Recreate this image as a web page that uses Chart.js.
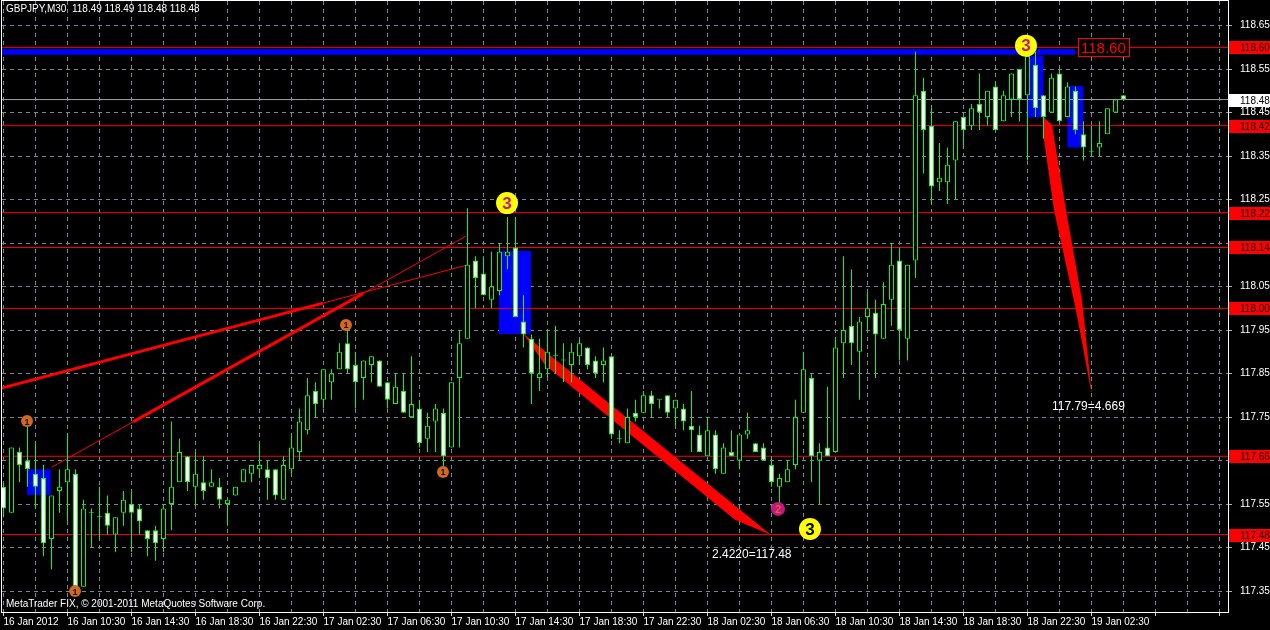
<!DOCTYPE html>
<html>
<head>
<meta charset="utf-8">
<title>GBPJPY,M30</title>
<script src="https://cdn.jsdelivr.net/npm/chart.js@4.4.0/dist/chart.umd.min.js"></script>
<style>
  html, body { margin: 0; padding: 0; background: #000; }
  #wrap { width: 1270px; height: 630px; }
</style>
</head>
<body>
<div id="wrap"><canvas id="chart" width="1270" height="630"></canvas></div>
<script>
// GBPJPY M30, 16 Jan 06:30 .. 19 Jan 04:30 (141 bars)
const opens = [
  117.59, 117.53, 117.67, 117.65, 117.62, 117.61, 117.47, 117.58, 117.60, 117.62,
  117.36, 117.53, 117.52, 117.53, 117.48, 117.53, 117.55, 117.54, 117.49, 117.49,
  117.47, 117.55, 117.60, 117.66, 117.59, 117.60, 117.59, 117.59, 117.55, 117.57,
  117.60, 117.62, 117.63, 117.63, 117.63, 117.56, 117.63, 117.67, 117.72, 117.81,
  117.79, 117.83, 117.86, 117.92, 117.87, 117.84, 117.87, 117.88, 117.83, 117.78,
  117.81, 117.75, 117.77, 117.70, 117.74, 117.76, 117.68, 117.84, 117.93, 118.11,
  118.08, 118.02, 118.04, 118.12, 118.14, 117.97, 117.93, 117.84, 117.86, 117.89,
  117.88, 117.87, 117.89, 117.91, 117.88, 117.87, 117.89, 117.70, 117.69, 117.76,
  117.76, 117.80, 117.79, 117.80, 117.77, 117.77, 117.73, 117.71, 117.66, 117.71,
  117.62, 117.67, 117.65, 117.71, 117.69, 117.68, 117.64, 117.59, 117.60, 117.64,
  117.76, 117.84, 117.65, 117.68, 117.67, 117.92, 117.96, 117.90, 117.98, 117.99,
  117.93, 118.02, 118.11, 117.93, 118.11, 118.50, 118.42, 118.29, 118.29, 118.34,
  118.44, 118.42, 118.47, 118.44, 118.51, 118.43, 118.48, 118.55, 118.49, 118.56,
  118.49, 118.45, 118.54, 118.44, 118.50, 118.40, 118.36, 118.37, 118.40, 118.45,
  118.49
];
const highs = [
  117.60, 117.68, 117.68, 117.73, 117.69, 117.64, 117.57, 117.63, 117.71, 117.63,
  117.56, 117.54, 117.59, 117.57, 117.52, 117.58, 117.58, 117.55, 117.49, 117.50,
  117.55, 117.74, 117.70, 117.66, 117.67, 117.66, 117.63, 117.61, 117.56, 117.59,
  117.63, 117.64, 117.69, 117.65, 117.63, 117.66, 117.71, 117.77, 117.84, 117.83,
  117.86, 117.86, 117.92, 117.96, 117.90, 117.88, 117.89, 117.88, 117.83, 117.85,
  117.85, 117.89, 117.79, 117.76, 117.78, 117.77, 117.83, 117.95, 118.23, 118.12,
  118.12, 118.13, 118.15, 118.21, 118.21, 118.03, 117.94, 117.93, 117.95, 117.96,
  117.92, 117.92, 117.93, 117.91, 117.89, 117.91, 117.89, 117.72, 117.77, 117.79,
  117.81, 117.81, 117.79, 117.80, 117.79, 117.78, 117.81, 117.73, 117.75, 117.72,
  117.69, 117.72, 117.71, 117.76, 117.69, 117.69, 117.66, 117.62, 117.65, 117.79,
  117.90, 117.85, 117.69, 117.82, 117.93, 118.12, 118.09, 117.98, 118.04, 118.02,
  118.06, 118.15, 118.14, 118.10, 118.59, 118.53, 118.46, 118.38, 118.37, 118.43,
  118.44, 118.47, 118.54, 118.50, 118.52, 118.50, 118.54, 118.55, 118.61, 118.59,
  118.49, 118.54, 118.55, 118.52, 118.51, 118.43, 118.42, 118.43, 118.46, 118.48,
  118.49
];
const lows = [
  117.52, 117.53, 117.60, 117.59, 117.54, 117.43, 117.40, 117.53, 117.51, 117.35,
  117.36, 117.45, 117.47, 117.48, 117.44, 117.50, 117.44, 117.48, 117.43, 117.42,
  117.44, 117.49, 117.60, 117.58, 117.55, 117.56, 117.59, 117.54, 117.50, 117.57,
  117.60, 117.60, 117.61, 117.56, 117.56, 117.56, 117.62, 117.65, 117.71, 117.75,
  117.77, 117.79, 117.86, 117.85, 117.77, 117.79, 117.83, 117.82, 117.77, 117.78,
  117.76, 117.75, 117.68, 117.67, 117.67, 117.63, 117.68, 117.68, 117.93, 118.00,
  118.03, 118.00, 118.03, 118.09, 117.98, 117.91, 117.78, 117.81, 117.84, 117.85,
  117.83, 117.83, 117.87, 117.86, 117.84, 117.83, 117.70, 117.69, 117.69, 117.74,
  117.76, 117.75, 117.77, 117.75, 117.73, 117.72, 117.67, 117.67, 117.66, 117.62,
  117.62, 117.66, 117.63, 117.70, 117.67, 117.65, 117.59, 117.55, 117.60, 117.63,
  117.76, 117.60, 117.55, 117.66, 117.67, 117.84, 117.87, 117.79, 117.95, 117.84,
  117.93, 117.96, 117.88, 117.88, 118.07, 118.31, 118.24, 118.27, 118.24, 118.25,
  118.37, 118.41, 118.41, 118.42, 118.41, 118.43, 118.44, 118.43, 118.34, 118.44,
  118.39, 118.45, 118.43, 118.44, 118.40, 118.34, 118.35, 118.35, 118.40, 118.45,
  118.48
];
const closes = [
  117.54, 117.68, 117.64, 117.63, 117.59, 117.46, 117.57, 117.59, 117.63, 117.36,
  117.54, 117.53, 117.52, 117.50, 117.52, 117.56, 117.53, 117.51, 117.47, 117.46,
  117.54, 117.59, 117.67, 117.60, 117.62, 117.58, 117.60, 117.56, 117.56, 117.59,
  117.63, 117.64, 117.64, 117.61, 117.57, 117.64, 117.68, 117.74, 117.80, 117.78,
  117.86, 117.85, 117.90, 117.86, 117.83, 117.88, 117.89, 117.82, 117.79, 117.82,
  117.76, 117.78, 117.69, 117.73, 117.77, 117.66, 117.83, 117.92, 118.10, 118.07,
  118.03, 118.05, 118.13, 118.13, 117.98, 117.94, 117.85, 117.85, 117.90, 117.89,
  117.88, 117.90, 117.92, 117.87, 117.85, 117.88, 117.71, 117.70, 117.75, 117.75,
  117.80, 117.78, 117.79, 117.76, 117.79, 117.74, 117.72, 117.67, 117.72, 117.63,
  117.68, 117.66, 117.71, 117.72, 117.67, 117.65, 117.60, 117.61, 117.63, 117.75,
  117.86, 117.66, 117.67, 117.66, 117.91, 117.95, 117.92, 117.97, 118.00, 117.94,
  118.01, 118.10, 117.95, 118.10, 118.49, 118.41, 118.28, 118.30, 118.33, 118.43,
  118.41, 118.46, 118.45, 118.50, 118.41, 118.49, 118.54, 118.48, 118.58, 118.46,
  118.44, 118.53, 118.43, 118.51, 118.41, 118.37, 118.36, 118.38, 118.46, 118.48,
  118.48
];

// one label every 8 bars (4 hours)
const timeLabels = [
  '16 Jan 2012', '16 Jan 10:30', '16 Jan 14:30', '16 Jan 18:30', '16 Jan 22:30',
  '17 Jan 02:30', '17 Jan 06:30', '17 Jan 10:30', '17 Jan 14:30', '17 Jan 18:30',
  '17 Jan 22:30', '18 Jan 02:30', '18 Jan 06:30', '18 Jan 10:30', '18 Jan 14:30',
  '18 Jan 18:30', '18 Jan 22:30', '19 Jan 02:30'
];
const priceTicks = [117.35, 117.45, 117.55, 117.65, 117.75, 117.85, 117.95,
                    118.05, 118.15, 118.25, 118.35, 118.45, 118.55, 118.65];

// horizontal levels (red) and the current bid
const levels = [118.60, 118.42, 118.22, 118.14, 118.00, 117.66, 117.48];
const bid = 118.48;
const header = 'GBPJPY,M30  118.49 118.49 118.48 118.48';

// drawn objects, in [bar, price]
const blueBoxes = [ // [barFrom, barTo, priceLow, priceHigh]
  [2.95, 5.9, 117.571, 117.630],
  [61.94, 65.94, 117.941, 118.132],
  [128.03, 129.98, 118.439, 118.580],
  [132.98, 134.98, 118.370, 118.511]
];
const blueBand = [-1, 133.94, 118.583, 118.596];
const wedges = [
  [[64.94, 117.943], [95.94, 117.479], [91.44, 117.514], [67.69, 117.870]],
  [[129.94, 118.440], [131.06, 118.422], [132.81, 118.226], [134.81, 118.019],
   [136.06, 117.799], [134.06, 117.996], [131.31, 118.226], [130.06, 118.387]]
];
const fanThin = [
  [[-1, 117.813], [57.81, 118.099]],
  [[6.03, 117.635], [57.81, 118.166]]
];
const fanThick = [
  [[-1, 117.813], [39.94, 118.012]],
  [[16.19, 117.739], [44.94, 118.034]]
];
const onesPts = [[2.94, 117.741], [8.94, 117.350], [42.81, 117.962], [54.94, 117.624]];
const twosPts = [[96.81, 117.539]];
const threesPts = [[62.94, 118.242], [127.81, 118.604]];
const threesLow = [[100.81, 117.493]];
const notes = [
  { text: '2.4220=117.48', at: [88.56, 117.433] },
  { text: '117.79=4.669', at: [131.06, 117.773] }
];
const boxLabel = { text: '118.60', at: [134.31, 118.60] };

const xMin = -0.1875, xMax = 153.0625;
const yMin = 117.302, yMax = 118.7066;

const LIME = '#00ff00';
const FONT = "'Liberation Sans', Arial, sans-serif";

const wickData = highs.map((h, i) => ({ x: i, y: [lows[i], h] }));
const bodyData = opens.map((o, i) => ({ x: i, y: [o, closes[i]] }));
const bodyFill = opens.map((o, i) => closes[i] >= o ? '#000000' : '#ffffff');

function seg(points, color, width, order) {
  return {
    type: 'line',
    data: points.map(p => ({ x: p[0], y: p[1] })),
    borderColor: color,
    borderWidth: width,
    pointRadius: 0,
    fill: false,
    tension: 0,
    order: order
  };
}

const datasets = [
  {
    type: 'bar', label: 'body', data: bodyData,
    backgroundColor: bodyFill, borderColor: LIME, borderWidth: 1,
    borderSkipped: false, grouped: false, maxBarThickness: 5, minBarLength: 1,
    order: 0
  },
  {
    type: 'bar', label: 'wick', data: wickData,
    backgroundColor: LIME, borderWidth: 0,
    grouped: false, maxBarThickness: 1, order: 1
  }
];
levels.forEach(v => datasets.push(seg([[xMin, v], [xMax, v]], '#ff0000', 1, 5)));
datasets.push(seg([[xMin, bid], [xMax, bid]], '#a0a0a0', 1, 6));
fanThin.forEach(l => datasets.push(seg(l, '#ff0000', 1, 7)));
fanThick.forEach(l => datasets.push(seg(l, '#ff0000', 3, 7)));

function badge(ctx, px, py, r, fill, text, color, font) {
  ctx.beginPath();
  ctx.arc(px, py, r, 0, Math.PI * 2);
  ctx.fillStyle = fill;
  ctx.fill();
  ctx.fillStyle = color;
  ctx.font = font;
  ctx.textAlign = 'center';
  ctx.textBaseline = 'middle';
  ctx.fillText(text, px, py + 1);
}

const overlays = {
  id: 'overlays',
  beforeDatasetsDraw(chart) {
    const { ctx, chartArea: a, scales: { x, y } } = chart;
    ctx.save();
    ctx.beginPath();
    ctx.rect(a.left, a.top, a.right - a.left, a.bottom - a.top);
    ctx.clip();
    ctx.fillStyle = '#0000ff';
    blueBoxes.concat([blueBand]).forEach(b => {
      const x1 = x.getPixelForValue(b[0]), x2 = x.getPixelForValue(b[1]);
      const y1 = y.getPixelForValue(b[3]), y2 = y.getPixelForValue(b[2]);
      ctx.fillRect(x1, y1, x2 - x1, y2 - y1);
    });
    ctx.fillStyle = '#ff0000';
    wedges.forEach(w => {
      ctx.beginPath();
      w.forEach((p, k) => {
        const px = x.getPixelForValue(p[0]), py = y.getPixelForValue(p[1]);
        if (k) ctx.lineTo(px, py); else ctx.moveTo(px, py);
      });
      ctx.closePath();
      ctx.fill();
    });
    ctx.restore();
  },
  afterDatasetsDraw(chart) {
    const { ctx, scales: { x, y } } = chart;
    ctx.save();
    onesPts.forEach(p => badge(ctx, x.getPixelForValue(p[0]), y.getPixelForValue(p[1]), 6,
      '#d2691e', '1', '#1a0a00', 'bold 9px ' + FONT));
    twosPts.forEach(p => badge(ctx, x.getPixelForValue(p[0]), y.getPixelForValue(p[1]), 7,
      '#c71585', '2', '#d2691e', 'bold 11px ' + FONT));
    threesPts.forEach(p => badge(ctx, x.getPixelForValue(p[0]), y.getPixelForValue(p[1]), 11,
      '#ffff00', '3', '#c71585', 'bold 17px ' + FONT));
    threesLow.forEach(p => badge(ctx, x.getPixelForValue(p[0]), y.getPixelForValue(p[1]), 11,
      '#ffff00', '3', '#000000', 'bold 17px ' + FONT));

    ctx.fillStyle = '#ffffff';
    ctx.font = '12px ' + FONT;
    ctx.textAlign = 'left';
    ctx.textBaseline = 'middle';
    notes.forEach(n => ctx.fillText(n.text, x.getPixelForValue(n.at[0]), y.getPixelForValue(n.at[1])));

    // boxed price label
    const bx = x.getPixelForValue(boxLabel.at[0]), by = y.getPixelForValue(boxLabel.at[1]);
    ctx.font = '15px ' + FONT;
    const bw = ctx.measureText(boxLabel.text).width + 6;
    ctx.fillStyle = '#000000';
    ctx.fillRect(bx, by - 9, bw, 18);
    ctx.strokeStyle = '#ff0000';
    ctx.lineWidth = 1;
    ctx.strokeRect(Math.round(bx) + 0.5, Math.round(by - 9) + 0.5, Math.round(bw), 18);
    ctx.fillStyle = '#ff0000';
    ctx.fillText(boxLabel.text, bx + 3, by + 1);
    ctx.restore();
  },
  afterDraw(chart) {
    const { ctx, chartArea: a, scales: { y } } = chart;
    ctx.save();
    // frame
    ctx.strokeStyle = '#ffffff';
    ctx.lineWidth = 1;
    ctx.strokeRect(a.left - 0.5, a.top - 0.5, a.right - a.left + 1, a.bottom - a.top + 1);

    // price labels on the right axis
    ctx.font = '10px ' + FONT;
    ctx.textAlign = 'left';
    ctx.textBaseline = 'middle';
    const tag = (v, bg, fg) => {
      const py = Math.round(y.getPixelForValue(v));
      ctx.fillStyle = bg;
      ctx.fillRect(a.right + 1, py - 6, 1270 - a.right - 1, 13);
      ctx.fillStyle = fg;
      ctx.fillText(v.toFixed(2), a.right + 12, py + 1);
    };
    levels.forEach(v => tag(v, '#ff0000', '#000000'));
    tag(bid, '#ffffff', '#000000');

    // header and copyright
    ctx.fillStyle = '#ffffff';
    ctx.font = '10px ' + FONT;
    ctx.fillText(header, 6, 9);
    ctx.fillText('MetaTrader FIX, \u00a9 2001-2011 MetaQuotes Software Corp.', 6, 604);
    ctx.restore();
  }
};

// hide axis labels that sit under a level tag
const hiddenByTag = v => levels.some(l => Math.abs(l - v) < 0.015);

new Chart(document.getElementById('chart'), {
  type: 'bar',
  data: { datasets: datasets },
  options: {
    responsive: false,
    animation: false,
    devicePixelRatio: 1,
    events: [],
    layout: { autoPadding: false, padding: { left: 2, top: 1, right: 0, bottom: 0 } },
    plugins: { legend: { display: false }, tooltip: { enabled: false } },
    scales: {
      x: {
        type: 'linear', position: 'bottom', min: xMin, max: xMax, offset: false,
        afterFit: s => { s.height = 18; s.paddingLeft = 0; s.paddingRight = 0; },
        afterBuildTicks: s => {
          const t = [];
          for (let v = 0; v <= 152; v += 4) t.push({ value: v });
          s.ticks = t;
        },
        grid: {
          color: '#778899', lineWidth: 1, offset: false, drawTicks: true, tickLength: 4,
          tickColor: c => (c.tick && c.tick.value % 8 === 0) ? '#d0d0d0' : 'rgba(0,0,0,0)',
          tickBorderDash: []
        },
        border: { display: false, dash: [4, 4] },
        ticks: {
          autoSkip: false, maxRotation: 0, minRotation: 0, align: 'start', padding: 0,
          color: '#ffffff', font: { family: FONT, size: 10 },
          callback: v => (v % 8 === 0 && timeLabels[v / 8]) ? timeLabels[v / 8] : ''
        }
      },
      y: {
        type: 'linear', position: 'right', min: yMin, max: yMax,
        afterFit: s => { s.width = 42; s.paddingTop = 0; s.paddingBottom = 0; },
        afterBuildTicks: s => { s.ticks = priceTicks.map(v => ({ value: v })); },
        grid: {
          color: '#778899', lineWidth: 1, drawTicks: true, tickLength: 4,
          tickColor: '#b0b0b0', tickBorderDash: []
        },
        border: { display: false, dash: [4, 4] },
        ticks: {
          padding: 8, color: '#ffffff', font: { family: FONT, size: 10 },
          callback: v => hiddenByTag(v) ? '' : v.toFixed(2)
        }
      }
    }
  },
  plugins: [overlays]
});
</script>
</body>
</html>
